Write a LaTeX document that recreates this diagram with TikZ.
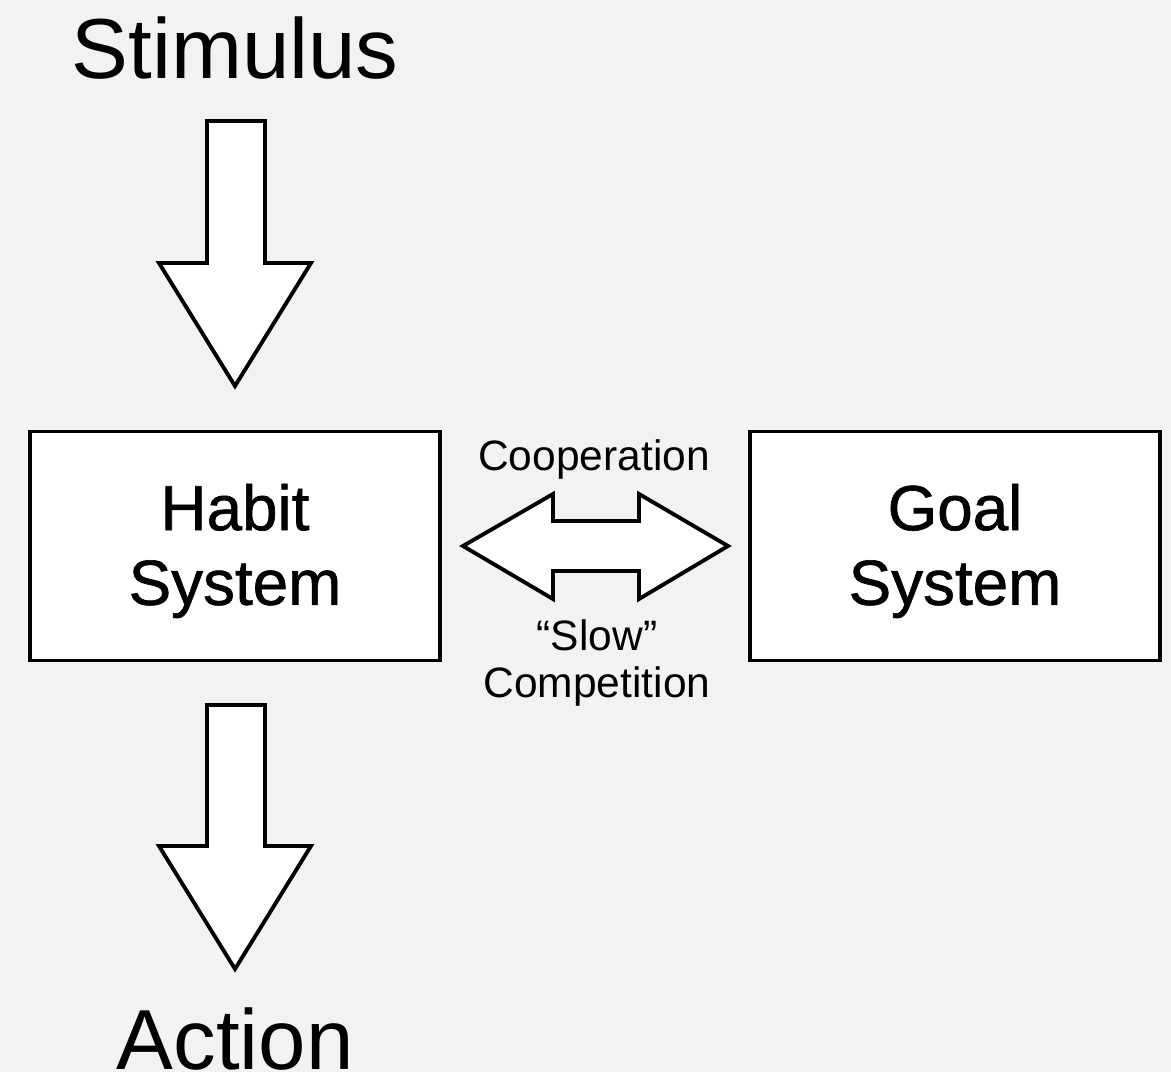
\documentclass[tikz,border=0pt]{standalone}
\usepackage{fontspec}
\setmainfont{Liberation Sans}
\newfontfamily\mediumfont[FakeBold=1]{Liberation Sans}
\usepackage{tikz}
\usepackage{xcolor}
\usetikzlibrary{positioning,calc}
\definecolor{bggray}{RGB}{242,242,242}

\begin{document}
\begin{tikzpicture}[x=0.02cm, y=-0.02cm]
    % Define styles
    \tikzstyle{system} = [rectangle, draw, line width=2.2pt, fill=white, minimum width=8.2cm, minimum height=4.58cm]
    \tikzstyle{blockarrow} = [draw, line width=2.2pt, fill=white, line join=miter]
    \tikzstyle{big} = [font=\fontsize{48.5}{58}\selectfont, inner sep=0pt, anchor=base]
    \tikzstyle{label} = [font=\fontsize{24.2}{28}\selectfont, inner sep=0pt, anchor=base]
    \tikzstyle{inbox} = [font=\mediumfont\fontsize{36.3}{42.5}\selectfont, align=center, inner sep=0pt]

    % Background
    \fill[bggray] (0,0) rectangle (1171,1072);
    \useasboundingbox (0,0) rectangle (1171,1072);
    \clip (0,0) rectangle (1171,1072);

    % Input and output
    \node[big] (stimulus) at (235,78) {Stimulus};
    \node[big] (action) at (235,1069) {Action};

    % Systems
    \node[system] (habit) at (235,546) {};
    \node[system] (goal) at (955,546) {};
    \node[inbox] (habittext) at ($(habit.center)+(0,5)$) {Habit\\System};
    \node[inbox] (goaltext) at ($(goal.center)+(0,5)$) {Goal\\System};

    % Labels of the double arrow
    \node[label] (coop) at (594,470) {Cooperation};
    \node[label] (slow) at (597,650) {``Slow''};
    \node[label] (comp) at (597,697) {Competition};

    % Block arrows
    \draw[blockarrow] (207,121) -- (265,121) -- (265,263) -- (311,263) -- (235,386)
        -- (159,263) -- (207,263) -- cycle;
    \draw[blockarrow] (207,705) -- (265,705) -- (265,846) -- (311,846) -- (235,969)
        -- (159,846) -- (207,846) -- cycle;
    \draw[blockarrow] (463,546) -- (553,494) -- (553,521) -- (639,521) -- (639,494)
        -- (728,546) -- (639,599) -- (639,571) -- (553,571) -- (553,599) -- cycle;

\end{tikzpicture}
\end{document}
